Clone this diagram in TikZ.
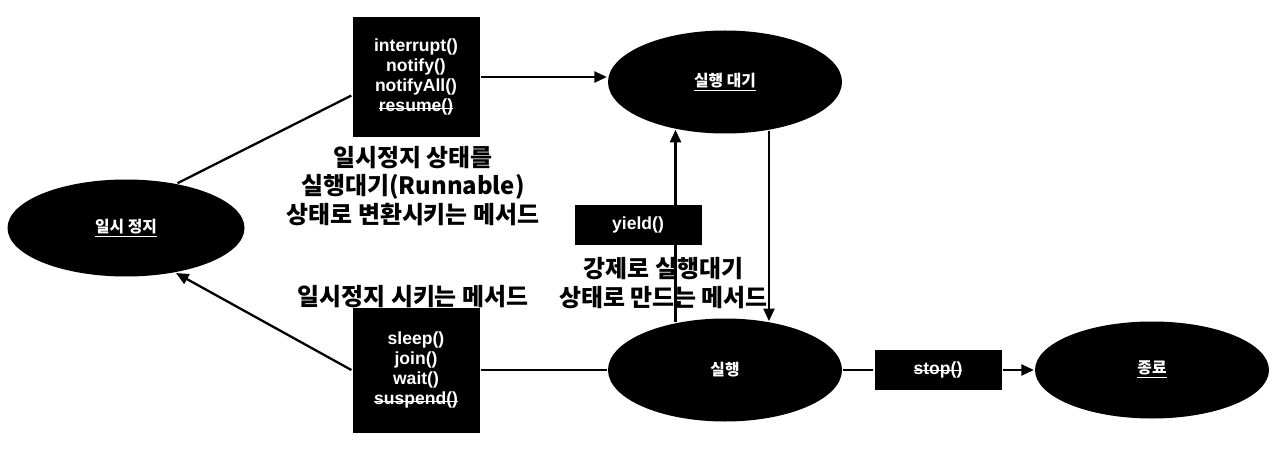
\documentclass[tikz,border=0pt]{standalone}
\usepackage{fontspec}
\setmainfont{Liberation Sans}
\newfontfamily\krfont{Noto Sans CJK KR}
\usetikzlibrary{shapes.geometric, arrows.meta, positioning}
\newsavebox\strikebox
\newcommand\strikeout[1]{\sbox\strikebox{#1}\rlap{\rule[0.33ex]{\wd\strikebox}{0.7pt}}\usebox\strikebox}

\begin{document}
\begin{tikzpicture}[
  >=Stealth, line width=1.3pt, align=center,
]

\tikzset{
  state/.style={ellipse, fill=black, text=white, minimum width=4.68cm, minimum height=2.06cm,
    font=\krfont\bfseries\fontsize{9}{11}\selectfont},
  method/.style={rectangle, fill=black, text=white, minimum width=2.54cm, minimum height=0.8cm,
    font=\bfseries\fontsize{10}{11.5}\selectfont},
  note/.style={font=\krfont\bfseries\fontsize{13.6}{16.2}\selectfont},
  flowline/.style={-{Triangle[length=2.5mm, width=2.2mm]}, black},
  plainline/.style={black},
}

\useasboundingbox (0,0) rectangle (25.6,9);

% ---- states ----
\node[state, minimum height=1.94cm, minimum width=4.74cm] (pause) at (2.52,4.44) {\underline{일시 정지}};
\node[state] (ready) at (14.5,7.36) {\underline{실행 대기}};
\node[state] (run)   at (14.5,1.6)  {실행};
\node[state, minimum height=1.94cm] (dead) at (23.04,1.6) {\underline{종료}};

% ---- method boxes ----
\node[method, minimum height=2.4cm] (resumebox) at (8.32,7.46)
  {interrupt()\\notify()\\notifyAll()\\\strikeout{resume()}};
\node[method, minimum height=2.5cm] (sleepbox) at (8.32,1.6)
  {sleep()\\join()\\wait()\\\strikeout{suspend()}};
\node[method] (yieldbox) at (12.76,4.5) {yield()};
\node[method] (stopbox)  at (18.76,1.6) {\strikeout{stop()}};

% ---- notes ----
\node[note] (resumenote) at (8.26,5.28) {일시정지 상태를\\실행대기(Runnable)\\상태로 변환시키는 메서드};
\node[note] (sleepnote)  at (8.26,3.06) {일시정지 시키는 메서드};
\node[note] (yieldnote)  at (13.27,3.34) {강제로 실행대기\\상태로 만드는 메서드};

% ---- connectors ----
\draw[plainline] (pause.41) -- (resumebox.196);
\draw[flowline] (resumebox.east) -- (resumebox.east -| ready.west);
\draw[flowline] (sleepbox.west) -- (pause.-42);
\draw[plainline] (sleepbox) -- (run);
\draw[flowline] (run.136.35) -- (run.136.35 |- ready.-136.35);
\draw[flowline] (ready.-48.1) -- (ready.-48.1 |- run.48.1);
\draw[plainline] (run) -- (stopbox);
\draw[flowline] (stopbox) -- (dead);

\end{tikzpicture}
\end{document}
